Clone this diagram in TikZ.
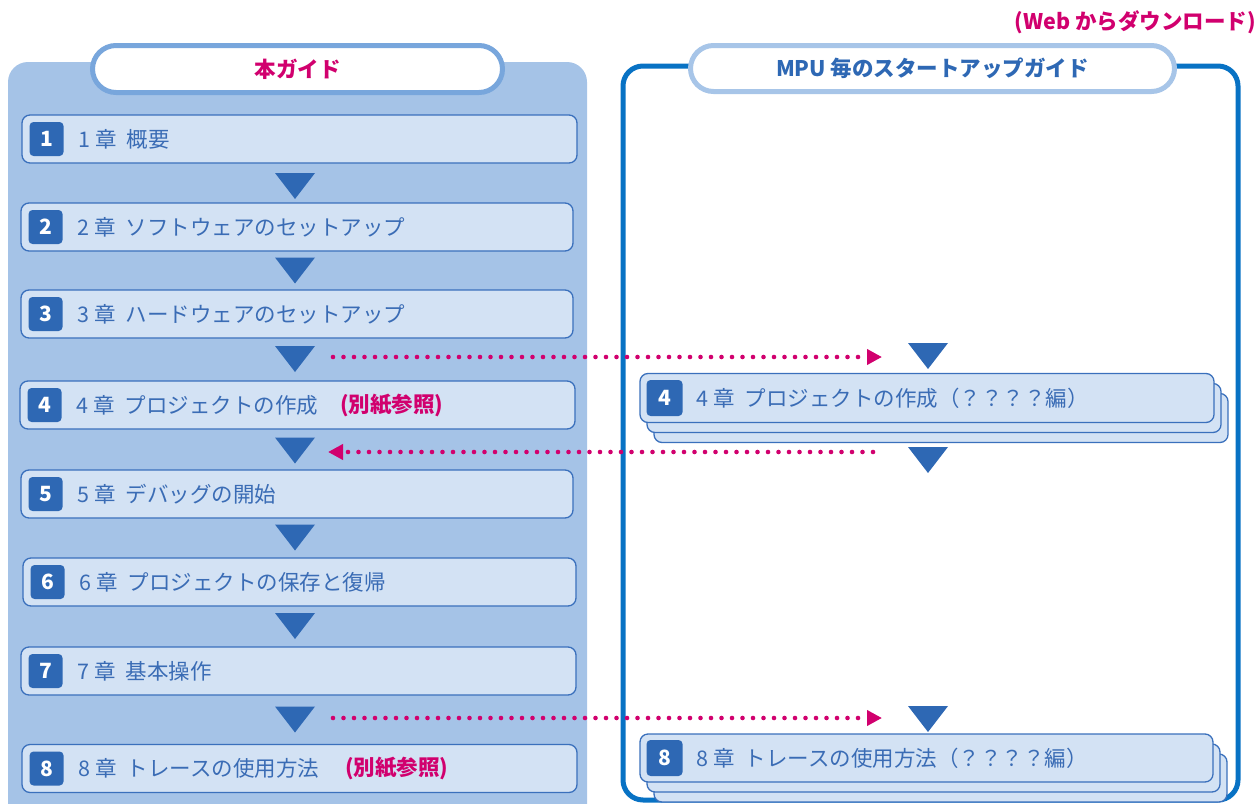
\documentclass[tikz,border=0pt]{standalone}
\usepackage{fontspec}
\setmainfont{Noto Sans CJK JP}
\usetikzlibrary{arrows.meta}
\definecolor{panel}{HTML}{A5C3E7}
\definecolor{boxfill}{HTML}{D3E2F4}
\definecolor{boxline}{HTML}{3A70BC}
\definecolor{dark}{HTML}{2E68B4}
\definecolor{txt}{HTML}{3A6CB5}
\definecolor{mag}{HTML}{D1006E}
\definecolor{pillL}{HTML}{78A6DC}
\definecolor{frameR}{HTML}{0872C4}
\definecolor{pillR}{HTML}{A7C5E8}
\newcommand{\mychap}[2]{#1 章\hspace{10pt}#2}
\tikzset{
  chapbox/.style={draw=boxline, fill=boxfill, line width=1.3pt, rounded corners=8pt, minimum height=48pt, inner sep=0pt},
  badge/.style={fill=dark, rounded corners=4pt, minimum width=34pt, minimum height=34pt, text=white, font=\bfseries\fontsize{21}{21}\selectfont, inner sep=0pt, anchor=west},
  chaptext/.style={anchor=west, text=txt, font=\fontsize{21.5}{25}\selectfont, inner sep=0pt},
  note/.style={anchor=west, text=mag, font=\bfseries\fontsize{21.5}{25}\selectfont, inner sep=0pt},
  pill/.style={fill=white, line width=5pt, inner sep=0pt, font=\bfseries\fontsize{21.5}{25}\selectfont},
  dots/.style={draw=mag, line width=4.6pt, line cap=round, dash pattern=on 0pt off 10.5pt, -{Triangle[length=15pt,width=15pt]}},
  downtri/.pic={\fill[dark] (-20,-13) -- (20,-13) -- (0,13) -- cycle;}
}
\begin{document}
\begin{tikzpicture}[x=1pt,y=-1pt]
\useasboundingbox (0,0) rectangle (1258,803);
\clip (0,0) rectangle (1258,803);
% left panel
\fill[panel, rounded corners=20pt] (8,62) rectangle (587,840);
\node[pill, draw=pillL, text=mag, minimum width=410pt, minimum height=47pt, rounded corners=23.5pt] (tL) at (297.5,69) {本ガイド};
% right panel
\draw[frameR, line width=5pt, rounded corners=20pt] (623,66) rectangle (1238,800);
\node[pill, draw=pillR, text=dark, minimum width=484pt, minimum height=46pt, rounded corners=23pt] (tR) at (932.5,68.5) {MPU 毎のスタートアップガイド};
\node[note, anchor=east] (web) at (1256,22) {(Web からダウンロード)};
% left chapters
\node[chapbox, minimum width=555pt] (c1) at (299.5,139) {};
\node[chapbox, minimum width=552pt] (c2) at (297,227) {};
\node[chapbox, minimum width=552pt] (c3) at (297,314) {};
\node[chapbox, minimum width=555pt] (c4) at (297.5,405) {};
\node[chapbox, minimum width=552pt] (c5) at (297,494) {};
\node[chapbox, minimum width=553pt] (c6) at (299.5,582) {};
\node[chapbox, minimum width=555pt] (c7) at (298.5,671) {};
\node[chapbox, minimum width=555pt] (c8) at (299.5,768.5) {};
\foreach \i/\t in {1/概要,2/ソフトウェアのセットアップ,3/ハードウェアのセットアップ,4/プロジェクトの作成,5/デバッグの開始,6/プロジェクトの保存と復帰,7/基本操作,8/トレースの使用方法}{
  \node[badge] (b\i) at ([xshift=8pt]c\i.west) {\i};
  \node[chaptext] (l\i) at ([xshift=57pt]c\i.west) {\mychap{\i}{\t}};
}
\node[note] (n4) at (340,405) {(別紙参照)};
\node[note] (n8) at (345,768.5) {(別紙参照)};
% left triangles
\pic (tl1) at (295,186) {downtri};
\pic (tl2) at (295,270.5) {downtri};
\pic (tl3) at (295,359) {downtri};
\pic (tl4) at (295,450.5) {downtri};
\pic (tl5) at (295,537.5) {downtri};
\pic (tl6) at (295,626) {downtri};
\pic (tl7) at (295,719.5) {downtri};
% right chapter 4 stack
\node[chapbox, minimum width=574pt, minimum height=49pt] (r4c) at (941,418) {};
\node[chapbox, minimum width=574pt, minimum height=49pt] (r4b) at (934,408) {};
\node[chapbox, minimum width=574pt, minimum height=49pt] (r4) at (927,398) {};
\node[badge, minimum width=36pt, minimum height=36pt] (rb4) at ([xshift=7pt]r4.west) {4};
\node[chaptext] (rl4) at ([xshift=57pt]r4.west) {\mychap{4}{プロジェクトの作成（？？？？編）}};
% right chapter 8 stack
\node[chapbox, minimum width=573pt, minimum height=48pt] (r8c) at (940.5,778) {};
\node[chapbox, minimum width=573pt, minimum height=48pt] (r8b) at (933.5,768) {};
\node[chapbox, minimum width=573pt, minimum height=48pt] (r8) at (926.5,758) {};
\node[badge, minimum width=36pt, minimum height=36pt] (rb8) at ([xshift=7pt]r8.west) {8};
\node[chaptext] (rl8) at ([xshift=57pt]r8.west) {\mychap{8}{トレースの使用方法（？？？？編）}};
% right triangles
\pic (tr1) at (928,356) {downtri};
\pic (tr2) at (928,460) {downtri};
\pic (tr3) at (928,719) {downtri};
% dotted connectors
\coordinate (d1s) at (333,357);
\coordinate (d1e) at (882,357);
\coordinate (d2s) at (873,452);
\coordinate (d2e) at (328,452);
\coordinate (d3s) at (333,718);
\coordinate (d3e) at (882,718);
\draw[dots] (d1s) -- (d1e);
\draw[dots] (d2s) -- (d2e);
\draw[dots] (d3s) -- (d3e);
\end{tikzpicture}
\end{document}
